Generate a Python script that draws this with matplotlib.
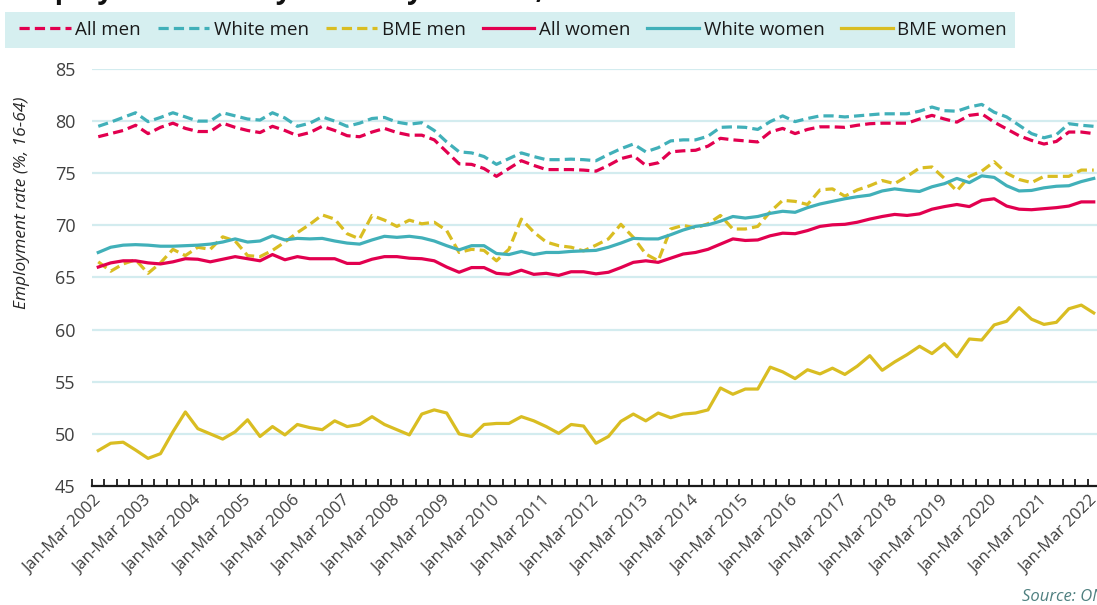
import matplotlib
matplotlib.use("Agg")
import matplotlib.pyplot as plt
import matplotlib.transforms as mtransforms
from matplotlib.patches import Rectangle
from matplotlib.lines import Line2D
import numpy as np

plt.rcParams['font.family'] = ['Open Sans', 'DejaVu Sans']

# quarterly, Jan-Mar 2002 .. Jan-Mar 2022
years = list(range(2002, 2023))
tick_labels = ["Jan-Mar %d" % y for y in years]

all_men = [78.5, 78.8, 79.1, 79.6, 78.8, 79.4, 79.8, 79.3, 79.0, 79.0,
           79.8, 79.4, 79.1, 78.9, 79.5, 79.1, 78.6, 78.9, 79.5, 79.1,
           78.6, 78.5, 78.95, 79.3, 78.9, 78.65, 78.65, 78.2, 77.05, 75.9,
           75.85, 75.45, 74.7, 75.45, 76.2, 75.75, 75.35, 75.35, 75.35, 75.3,
           75.2, 75.75, 76.4, 76.7, 75.75, 76.0, 77.05, 77.15, 77.2, 77.6,
           78.35, 78.2, 78.1, 78.0, 78.95, 79.3, 78.8, 79.2, 79.45, 79.45,
           79.4, 79.6, 79.75, 79.8, 79.8, 79.8, 80.2, 80.55, 80.2, 79.9,
           80.55, 80.7, 79.9, 79.25, 78.6, 78.15, 77.8, 78.05, 78.95, 78.95,
           78.8]

white_men = [79.5, 79.9, 80.35, 80.8, 79.95, 80.35, 80.8, 80.4, 80.0, 80.0,
             80.8, 80.5, 80.2, 80.1, 80.8, 80.3, 79.5, 79.8, 80.4, 80.0,
             79.5, 79.8, 80.25, 80.35, 79.9, 79.7, 79.85, 79.1, 78.0, 77.05,
             76.95, 76.6, 75.85, 76.4, 76.95, 76.6, 76.3, 76.3, 76.35, 76.3,
             76.2, 76.8, 77.35, 77.8, 77.05, 77.45, 78.1, 78.2, 78.2, 78.55,
             79.4, 79.45, 79.4, 79.2, 79.95, 80.5, 79.95, 80.25, 80.5, 80.5,
             80.4, 80.5, 80.6, 80.7, 80.7, 80.7, 80.95, 81.35, 81.0, 80.95,
             81.35, 81.6, 80.85, 80.4, 79.6, 78.8, 78.4, 78.7, 79.75, 79.6,
             79.5]

bme_men = [66.5, 65.6, 66.3, 66.7, 65.4, 66.4, 67.7, 67.1, 67.9, 67.7,
           68.9, 68.5, 67.1, 67.0, 67.6, 68.4, 69.3, 70.1, 71.0, 70.6,
           69.2, 68.7, 70.95, 70.5, 69.9, 70.5, 70.15, 70.3, 69.5, 67.4,
           67.7, 67.6, 66.6, 67.7, 70.6, 69.35, 68.4, 68.05, 67.9, 67.55,
           68.1, 68.7, 70.1, 68.85, 67.25, 66.6, 69.65, 70.0, 69.75, 70.15,
           70.95, 69.65, 69.65, 69.9, 71.3, 72.4, 72.3, 72.0, 73.4, 73.5,
           72.8, 73.4, 73.8, 74.3, 74.0, 74.7, 75.5, 75.6, 74.5, 73.3,
           74.7, 75.2, 76.1, 75.0, 74.4, 74.1, 74.7, 74.7, 74.7, 75.3,
           75.3]

all_women = [66.0, 66.4, 66.6, 66.6, 66.4, 66.3, 66.5, 66.8, 66.75, 66.5,
             66.75, 67.0, 66.8, 66.6, 67.2, 66.7, 67.0, 66.8, 66.8, 66.8,
             66.35, 66.35, 66.75, 67.0, 67.0, 66.85, 66.8, 66.6, 66.0, 65.5,
             65.95, 65.95, 65.4, 65.3, 65.7, 65.3, 65.4, 65.2, 65.55, 65.55,
             65.35, 65.5, 65.95, 66.45, 66.6, 66.45, 66.85, 67.25, 67.4, 67.7,
             68.2, 68.7, 68.55, 68.6, 69.0, 69.25, 69.2, 69.5, 69.9, 70.05,
             70.1, 70.3, 70.6, 70.85, 71.05, 70.95, 71.1, 71.55, 71.8, 72.0,
             71.8, 72.4, 72.55, 71.85, 71.55, 71.5, 71.6, 71.7, 71.85, 72.25,
             72.25]

white_women = [67.4, 67.9, 68.1, 68.15, 68.1, 68.0, 68.0, 68.05, 68.1, 68.2,
               68.4, 68.7, 68.4, 68.5, 69.0, 68.6, 68.75, 68.7, 68.75, 68.5,
               68.3, 68.2, 68.6, 68.95, 68.85, 68.95, 68.8, 68.5, 68.05, 67.65,
               68.05, 68.05, 67.3, 67.2, 67.5, 67.2, 67.4, 67.4, 67.5, 67.55,
               67.6, 67.9, 68.3, 68.75, 68.7, 68.7, 69.1, 69.55, 69.9, 70.05,
               70.4, 70.85, 70.7, 70.85, 71.15, 71.35, 71.25, 71.7, 72.05, 72.3,
               72.55, 72.75, 72.9, 73.3, 73.5, 73.35, 73.25, 73.7, 74.0, 74.5,
               74.1, 74.75, 74.6, 73.8, 73.3, 73.35, 73.6, 73.75, 73.8, 74.2,
               74.5]

bme_women = [48.4, 49.1, 49.2, 48.45, 47.65, 48.1, 50.2, 52.1, 50.5, 50.0,
             49.5, 50.2, 51.35, 49.75, 50.7, 49.9, 50.9, 50.6, 50.4, 51.25,
             50.7, 50.9, 51.65, 50.9, 50.4, 49.9, 51.9, 52.3, 52.0, 50.0,
             49.75, 50.9, 51.0, 51.0, 51.65, 51.25, 50.7, 50.05, 50.9, 50.75,
             49.1, 49.75, 51.2, 51.9, 51.25, 52.0, 51.55, 51.9, 52.0, 52.3,
             54.4, 53.8, 54.3, 54.3, 56.4, 55.95, 55.3, 56.15, 55.75, 56.3,
             55.7, 56.5, 57.5, 56.1, 56.9, 57.6, 58.4, 57.7, 58.65, 57.4,
             59.1, 59.0, 60.45, 60.8, 62.1, 61.0, 60.5, 60.7, 62.0, 62.35,
             61.6]

crimson = '#E2004F'
teal = '#41B0B9'
yellow = '#D9BD22'
dash = (0, (3.2, 1.6))

series = [
    ("All men", all_men, crimson, dash),
    ("White men", white_men, teal, dash),
    ("BME men", bme_men, yellow, dash),
    ("All women", all_women, crimson, '-'),
    ("White women", white_women, teal, '-'),
    ("BME women", bme_women, yellow, '-'),
]

fig = plt.figure(figsize=(10.97, 6.05), dpi=100)
ax = fig.add_axes([0.0839, 0.1967, 0.9188, 0.6893])

x = np.arange(len(all_men))
handles = []
for name, vals, col, ls in series:
    ax.plot(x, vals, color=col, linestyle=ls, linewidth=2.3,
            solid_joinstyle='round', dash_capstyle='butt')
    handles.append(Line2D([], [], color=col, linestyle=ls, linewidth=2.3))

ax.set_xlim(-0.5, len(x) - 0.5)
ax.set_ylim(45, 85)
ax.set_yticks(range(45, 90, 5))
for v in range(50, 90, 5):
    ax.axhline(v, color='#D3ECEF', linewidth=1.6, zorder=0)

for s in ['top', 'right', 'left']:
    ax.spines[s].set_visible(False)
ax.spines['bottom'].set_color('#1a1a1a')
ax.spines['bottom'].set_linewidth(1.6)

ax.tick_params(axis='y', length=0, pad=12, labelsize=13, labelcolor='#404040')

# ticks between categories, labels on the yearly Jan-Mar points
ax.set_xticks(np.arange(-0.5, len(x), 1))
ax.set_xticklabels([])
ax.tick_params(axis='x', which='major', direction='in', length=5, width=1.3, color='#1a1a1a')
ax.set_xticks(x[::4], tick_labels, minor=True)
ax.tick_params(axis='x', which='minor', length=0, pad=9, labelsize=12, labelcolor='#404040')
offset = mtransforms.ScaledTranslation(1 / 100, 0, fig.dpi_scale_trans)
for lab in ax.get_xticklabels(minor=True):
    lab.set_rotation(45)
    lab.set_ha('right')
    lab.set_va('center')
    lab.set_rotation_mode('anchor')
    lab.set_transform(lab.get_transform() + offset)

fig.text(22 / 1097, 1 - 203 / 605, "Employment rate (%, 16-64)", rotation=90,
         ha='center', va='center', fontsize=12.5, style='italic', color='#262626')

# title mostly cut off by the top edge
fig.text(12 / 1097, 1 + 2 / 605, "Employment rate by ethnicity and sex, 2002 to 2022",
         ha='left', va='baseline', fontsize=20, fontweight='bold', color='#111111')

fig.patches.append(Rectangle((5 / 1097, 1 - 48 / 605), 1010 / 1097, 36 / 605,
                             transform=fig.transFigure, facecolor='#D6EFF0',
                             edgecolor='none', zorder=0))
fig.legend(handles, [s[0] for s in series], loc='center', bbox_to_anchor=(513 / 1097, 1 - 30 / 605),
           ncol=6, frameon=False, fontsize=13.5, handlelength=2.75, handletextpad=0.25,
           columnspacing=0.9, labelcolor='#1a1a1a')

fig.text(1022 / 1097, 1 - 597 / 605, "Source: ONS Labour Force Survey", ha='left', va='center',
         fontsize=12, style='italic', color='#4F8080')

fig.savefig("out.png", dpi=100)
